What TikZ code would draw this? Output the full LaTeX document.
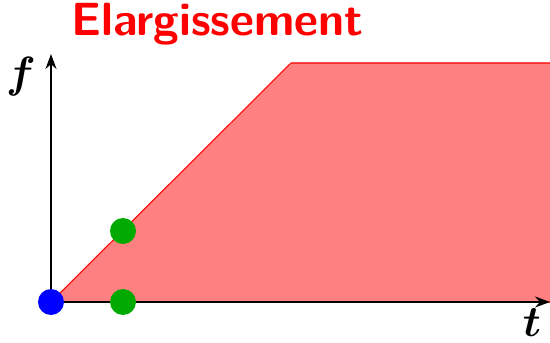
\documentclass[tikz,border=0pt]{standalone}
\usepackage{amsmath}
\usepackage{amssymb}
\usepackage{tikz}
\usetikzlibrary{arrows.meta}
\usetikzlibrary{positioning}

\definecolor{dotgreen}{RGB}{0,170,0}

\begin{document}
\begin{tikzpicture}[
    axis/.style={-{Stealth[length=3mm,width=2.2mm]}, line width=1.1pt},
    region/.style={draw=red, line width=0.6pt, fill=red!50},
    dot/.style={circle, inner sep=0pt, minimum size=0.52cm},
    lbl/.style={font=\fontsize{27}{32}\selectfont, inner sep=1pt},
    title/.style={font=\fontsize{26.5}{32}\selectfont\sffamily\bfseries, text=red}
    ]

    % frame
    \useasboundingbox (0,0) rectangle (11,6.84);
    \clip (0,0) rectangle (11,6.84);

    % Nodes
    \coordinate (O) at (1.02,0.8);
    \coordinate (fend) at (1.02,5.76);
    \coordinate (tend) at (11.0,0.8);
    \coordinate (K) at (5.82,5.58);

    % region
    \path[region] (O) -- (K) -- (11.5,5.58) -- (11.5,0.8) -- cycle;

    % axes
    \draw[axis] (O) -- (fend);
    \draw[axis] (O) -- (tend);

    \node[lbl] (f) at (0.42,5.3) {$\boldsymbol{f}$};
    \node[lbl] (t) at (10.64,0.38) {$\boldsymbol{t}$};

    \node[title] (T) at (4.35,6.36) {Elargissement};

    % points
    \node[dot, fill=blue] (p0) at (O) {};
    \node[dot, fill=dotgreen] (p1) at (2.46,2.22) {};
    \node[dot, fill=dotgreen] (p2) at (2.46,0.8) {};

\end{tikzpicture}
\end{document}
